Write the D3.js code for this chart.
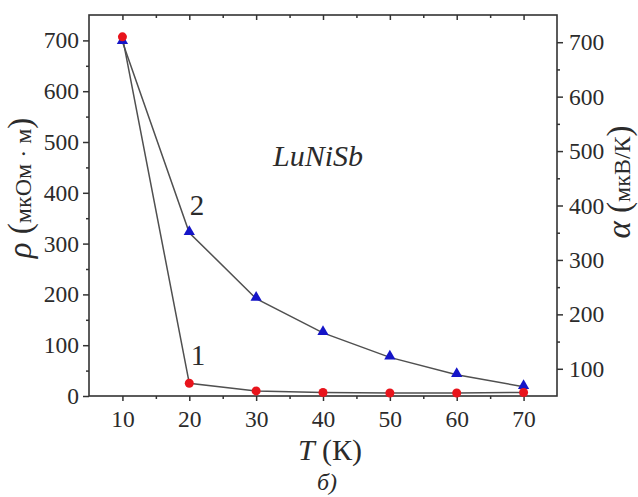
<!DOCTYPE html>
<html>
<head>
<meta charset="utf-8">
<script src="https://cdn.jsdelivr.net/npm/d3@7"></script>
<style>
  body { margin: 0; background: #fff; }
</style>
</head>
<body>
<div id="chart"></div>
<script>
// temperature, K
var temps = [10, 20, 30, 40, 50, 60, 70];
// curve 1: resistivity rho, мкОм·м (left axis)
var rhoValues = [707, 25, 10, 7, 6, 6, 7];
// curve 2: Seebeck coefficient alpha, мкВ/К (right axis)
var alphaValues = [701, 350, 229, 166, 121, 89, 67];

var xTicks = [10, 20, 30, 40, 50, 60, 70];
var xMinor = [15, 25, 35, 45, 55, 65];
var leftTicks = [0, 100, 200, 300, 400, 500, 600, 700];
var leftMinor = [50, 150, 250, 350, 450, 550, 650];
var rightTicks = [100, 200, 300, 400, 500, 600, 700];
var rightMinor = [150, 250, 350, 450, 550, 650];

var FONT = "'Liberation Serif', 'Times New Roman', Times, serif";
var W = 638, H = 497;
var margin = { top: 15, right: 81, bottom: 101, left: 89 };
var x0 = margin.left, x1 = W - margin.right, y0 = H - margin.bottom, y1 = margin.top;

var svg = d3.select("#chart").append("svg")
  .attr("width", W).attr("height", H)
  .attr("font-family", FONT);

var x = d3.scaleLinear().domain([5, 75]).range([x0, x1]);
var yL = d3.scaleLinear().domain([0, 750]).range([y0, y1]);
var yR = d3.scaleLinear().domain([50, 750]).range([y0, y1]);

var axisColor = "#333";

function styleAxis(g) {
  g.attr("font-family", FONT);
  g.select(".domain").remove();
  g.selectAll(".tick line").attr("stroke", axisColor).attr("stroke-width", 1.5);
  g.selectAll("text").attr("font-size", 23.5).attr("fill", "#2b2b2b");
}

// bottom axis
svg.append("g").attr("transform", "translate(0," + y0 + ")")
  .call(d3.axisBottom(x).tickValues(xTicks).tickSize(5).tickPadding(9))
  .call(styleAxis);
svg.append("g").attr("transform", "translate(0," + y0 + ")")
  .call(d3.axisBottom(x).tickValues(xMinor).tickSize(3).tickFormat(""))
  .call(styleAxis);
// top axis (ticks inward)
svg.append("g").attr("transform", "translate(0," + y1 + ")")
  .call(d3.axisBottom(x).tickValues(xTicks).tickSize(5).tickFormat(""))
  .call(styleAxis);
svg.append("g").attr("transform", "translate(0," + y1 + ")")
  .call(d3.axisBottom(x).tickValues(xMinor).tickSize(3).tickFormat(""))
  .call(styleAxis);
// left axis
svg.append("g").attr("transform", "translate(" + x0 + ",0)")
  .call(d3.axisLeft(yL).tickValues(leftTicks).tickSize(6).tickPadding(4))
  .call(styleAxis);
svg.append("g").attr("transform", "translate(" + x0 + ",0)")
  .call(d3.axisLeft(yL).tickValues(leftMinor).tickSize(3).tickFormat(""))
  .call(styleAxis);
// right axis
svg.append("g").attr("transform", "translate(" + x1 + ",0)")
  .call(d3.axisRight(yR).tickValues(rightTicks).tickSize(6).tickPadding(6))
  .call(styleAxis);
svg.append("g").attr("transform", "translate(" + x1 + ",0)")
  .call(d3.axisRight(yR).tickValues(rightMinor).tickSize(3).tickFormat(""))
  .call(styleAxis);

// frame
svg.append("rect")
  .attr("x", x0).attr("y", y1).attr("width", x1 - x0).attr("height", y0 - y1)
  .attr("fill", "none").attr("stroke", axisColor).attr("stroke-width", 1.6);

// lines
var lineRho = d3.line().x(function (d, i) { return x(temps[i]); }).y(function (d) { return yL(d); });
var lineAlpha = d3.line().x(function (d, i) { return x(temps[i]); }).y(function (d) { return yR(d); });

svg.append("path").datum(rhoValues).attr("d", lineRho)
  .attr("fill", "none").attr("stroke", "#505050").attr("stroke-width", 1.5);
svg.append("path").datum(alphaValues).attr("d", lineAlpha)
  .attr("fill", "none").attr("stroke", "#505050").attr("stroke-width", 1.5);

// markers
svg.append("g").selectAll("path").data(alphaValues).enter().append("path")
  .attr("d", d3.symbol().type(d3.symbolTriangle).size(55))
  .attr("transform", function (d, i) { return "translate(" + x(temps[i]) + "," + (yR(d) - 1) + ")"; })
  .attr("fill", "#1515c8");
svg.append("g").selectAll("circle").data(rhoValues).enter().append("circle")
  .attr("cx", function (d, i) { return x(temps[i]); })
  .attr("cy", function (d) { return yL(d); })
  .attr("r", 4.5)
  .attr("fill", "#e8141c");

// annotations
svg.append("text").attr("x", 273).attr("y", 166).attr("fill", "#2b2b2b")
  .attr("font-size", 30).attr("font-style", "italic").text("LuNiSb");
svg.append("text").attr("x", 197).attr("y", 215).attr("text-anchor", "middle").attr("fill", "#2b2b2b")
  .attr("font-size", 29).text("2");
svg.append("text").attr("x", 198).attr("y", 365).attr("text-anchor", "middle").attr("fill", "#2b2b2b")
  .attr("font-size", 29).text("1");

// x title
var xt = svg.append("text").attr("x", 330).attr("y", 460).attr("text-anchor", "middle")
  .attr("font-size", 30).attr("fill", "#2b2b2b");
xt.append("tspan").attr("font-style", "italic").text("T");
xt.append("tspan").text(" (К)");

// left title
var lt = svg.append("text").attr("transform", "translate(31,188) rotate(-90)")
  .attr("text-anchor", "middle").attr("font-size", 33).attr("fill", "#2b2b2b");
lt.append("tspan").attr("font-style", "italic").text("ρ");
lt.append("tspan").text(" (");
lt.append("tspan").attr("font-size", 24).text("мкОм · м");
lt.append("tspan").text(")");

// right title
var rt = svg.append("text").attr("transform", "translate(630,182) rotate(-90)")
  .attr("text-anchor", "middle").attr("font-size", 33).attr("fill", "#2b2b2b");
rt.append("tspan").attr("font-style", "italic").text("α");
rt.append("tspan").text(" (");
rt.append("tspan").attr("font-size", 24).text("мкВ/К");
rt.append("tspan").text(")");

// caption
svg.append("text").attr("x", 327).attr("y", 490).attr("text-anchor", "middle").attr("fill", "#2b2b2b")
  .attr("font-size", 24).attr("font-style", "italic").text("б)");
</script>
</body>
</html>
